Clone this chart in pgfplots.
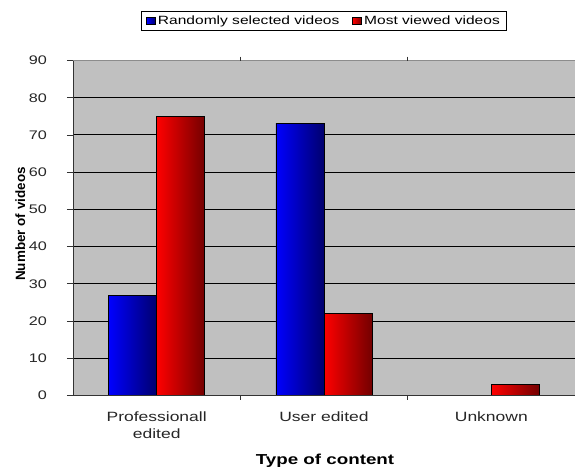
\documentclass[border=0pt]{standalone}
\usepackage{pgfplots}
\pgfplotsset{compat=1.18}
\usepackage{fontspec}
\setmainfont{Liberation Sans}
\newfontfamily\wide[FakeStretch=1.3]{Liberation Sans}
\definecolor{plotgray}{RGB}{192,192,192}
\definecolor{bluel}{RGB}{0,0,255}
\definecolor{bluer}{RGB}{0,0,110}
\definecolor{redl}{RGB}{255,0,0}
\definecolor{redr}{RGB}{115,0,0}
\definecolor{legblue}{RGB}{0,0,210}
\definecolor{legred}{RGB}{210,0,0}
\pgfplotsset{
  bluebar/.style={ybar, bar shift=-0.1435, draw=black, line width=0.8bp, left color=bluel, right color=bluer},
  redbar/.style={ybar, bar shift=0.1435, draw=black, line width=0.8bp, left color=redl, right color=redr},
}
\begin{document}
\begin{tikzpicture}
\path[use as bounding box] (0,0) rectangle (575bp,468bp);
\begin{axis}[
  at={(73bp,72.5bp)}, anchor=south west,
  scale only axis, width=502bp, height=335bp,
  xmin=0, xmax=3, ymin=0, ymax=90,
  axis background/.style={fill=plotgray},
  axis line style={draw=gray!90, line width=0.8bp},
  ytick={0,10,...,80},
  extra y ticks={90},
  extra y tick style={grid=none},
  ymajorgrids,
  major grid style={draw=black, line width=0.9bp},
  tick align=outside,
  ytick style={draw=black!80, line width=0.8bp},
  major tick length=6bp,
  xtick={0.5,1.5,2.5},
  xticklabels={{Professionall\\edited},{User edited},{Unknown}},
  xtick style={draw=none},
  extra x ticks={1,2},
  extra x tick labels={},
  extra x tick style={xtick style={draw=black!80, line width=0.8bp}, major tick length=4bp},
  /pgf/number format/assume math mode=true,
  tick label style={text=black!85},
  xticklabel style={font=\wide\fontsize{13.5}{17}\selectfont, align=center, anchor=north, inner sep=0pt, yshift=-10.5bp},
  yticklabel style={font=\wide\fontsize{12.5}{15}\selectfont, anchor=east, inner sep=0pt, xshift=-20bp},
  xlabel={Type of content},
  xlabel style={font=\wide\bfseries\fontsize{14.5}{17}\selectfont, at={(axis description cs:0.502,-0.2045)}, anchor=base},
  ylabel={Number of videos},
  ylabel style={font=\bfseries\fontsize{13.5}{16}\selectfont, at={(axis description cs:-0.0956,0.512)}, anchor=base, rotate=0},
  legend style={at={(0.5,1.118)}, anchor=center, draw=black, line width=0.8bp, fill=white,
    font=\wide\fontsize{12}{14}\selectfont, inner xsep=5bp, inner ysep=2.5bp,
    /tikz/every even column/.append style={column sep=11bp},
    nodes={inner xsep=2bp}},
  legend columns=2,
  legend cell align=left,
  bar width=0.287,
]
\addplot[bluebar,
  legend image code/.code={\draw[fill=legblue, draw=black, line width=0.8bp] (0bp,-3.5bp) rectangle (9bp,3.5bp);}]
  coordinates {(0.5,27)};
\addlegendentry{Randomly selected videos}
\addplot[redbar,
  legend image code/.code={\draw[fill=legred, draw=black, line width=0.8bp] (0bp,-3.5bp) rectangle (9bp,3.5bp);}]
  coordinates {(0.5,75)};
\addlegendentry{Most viewed videos}
\addplot[bluebar, forget plot] coordinates {(1.5,73)};
\addplot[redbar, forget plot] coordinates {(1.5,22)};
\addplot[redbar, forget plot] coordinates {(2.5,3)};
\draw[black!80, line width=0.9bp] (rel axis cs:0,1) -- (rel axis cs:0,0) -- (rel axis cs:1,0);
\end{axis}
\end{tikzpicture}
\end{document}
